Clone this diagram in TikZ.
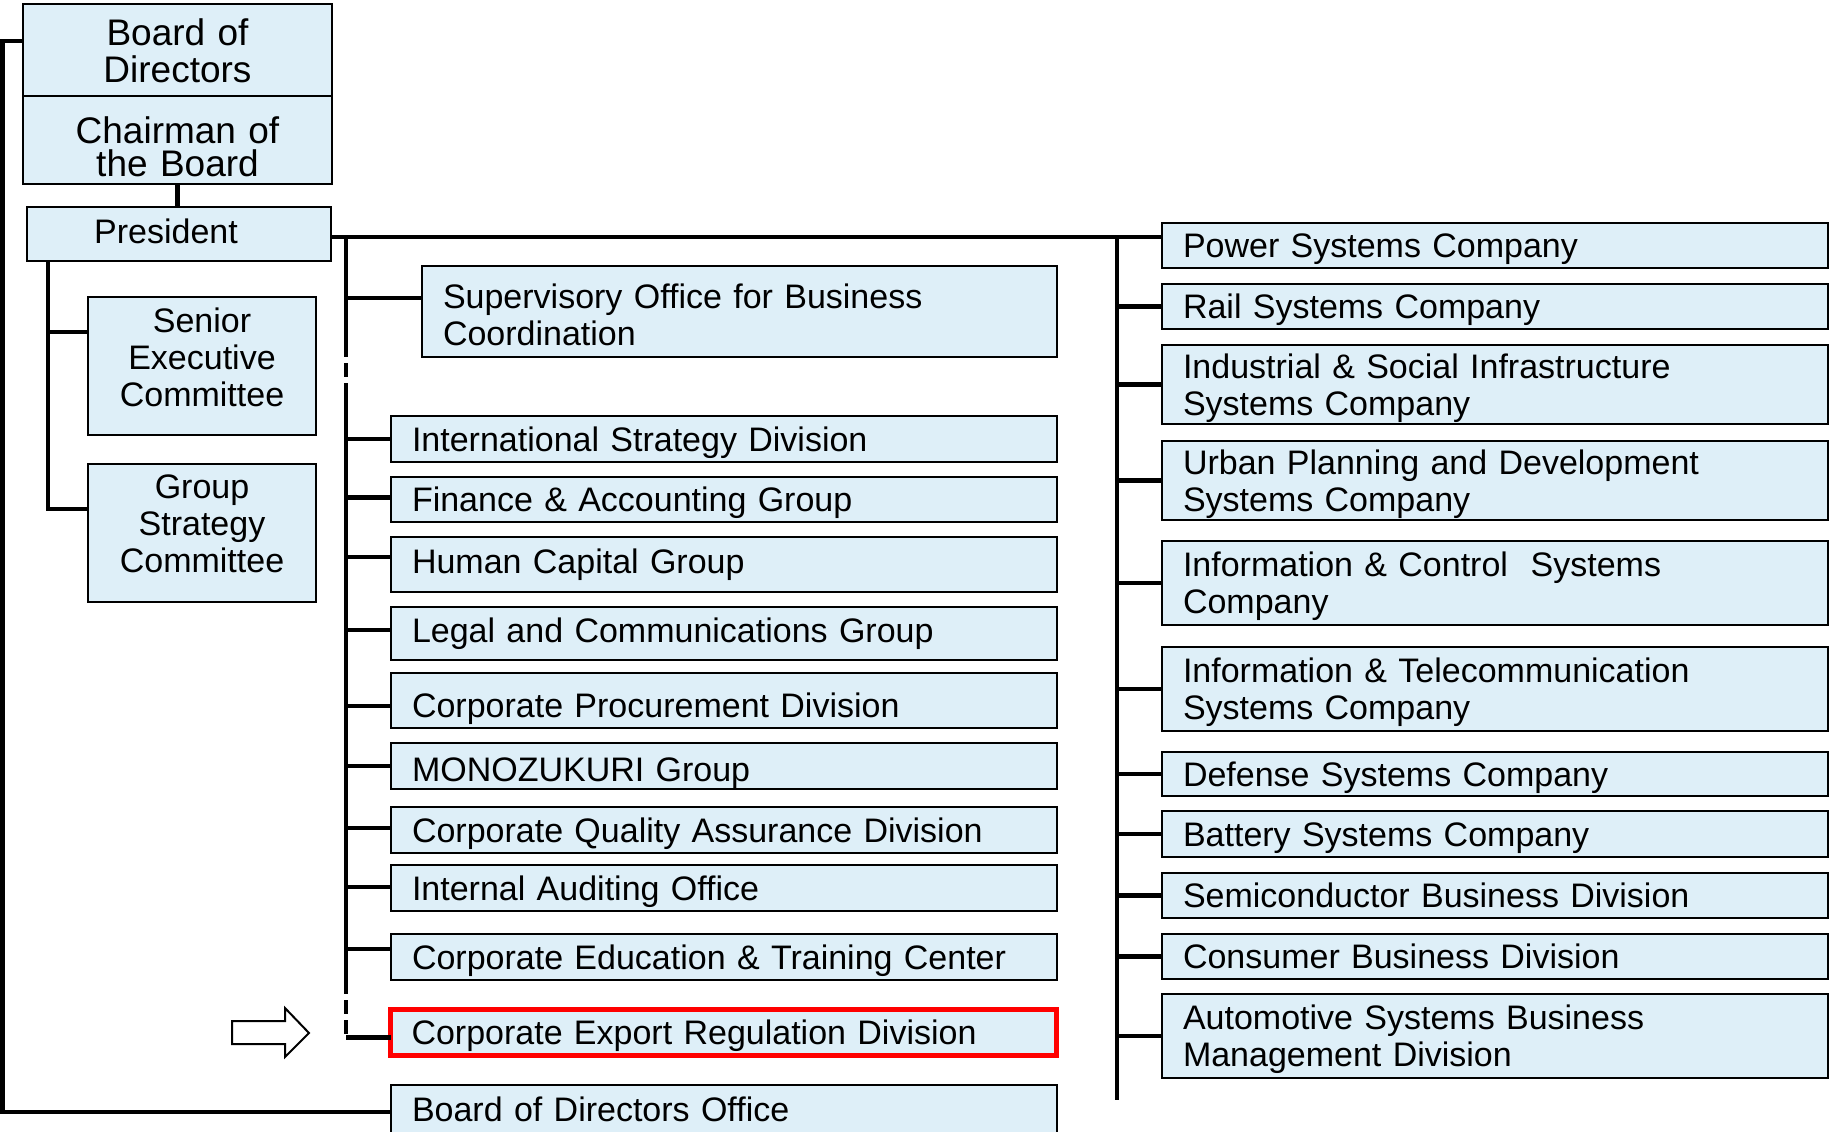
\documentclass[tikz,border=0pt]{standalone}
\usepackage{fontspec}
\setmainfont{Liberation Sans}
\usetikzlibrary{calc}
\definecolor{boxfill}{RGB}{222,239,248}
\definecolor{hired}{RGB}{255,0,0}
\begin{document}
\begin{tikzpicture}[x=0.5pt,y=-0.5pt,
  every node/.style={font=\fontsize{17}{18.5}\selectfont},
  box/.style={draw=black, line width=1.2pt, fill=boxfill, inner sep=0pt, outer sep=0pt},
  cbox/.style={box, align=center},
  bigtext/.style={font=\fontsize{18.5}{18.5}\selectfont},
  lbox/.style={box, align=left, text width=312pt, inner xsep=10.5pt},
  one/.style={text height=12.2pt, text depth=0pt},
  two/.style={text height=12.2pt, text depth=18.5pt},
  conn/.style={line width=2.2pt},
  dashconn/.style={line width=2.2pt, dash pattern=on 7pt off 3pt}]
\useasboundingbox (0,0) rectangle (1835,1131);

% left column
\node[cbox, bigtext, text width=154.5pt, minimum height=46pt, text height=13.2pt, text depth=18.2pt] (board) at (177.5,50) {Board of\\Directors};
\node[cbox, bigtext, text width=154.5pt, minimum height=44pt, text height=13.2pt, text depth=10.2pt] (chair) at (177.5,140) {Chairman of\\[-2pt]the Board};
\node[cbox, text width=152pt, minimum height=27pt, text height=12.2pt, text depth=3.2pt] (pres) at (179,234) {\hspace*{-13pt}President};
\node[cbox, text width=114pt, minimum height=69pt, text height=12.2pt, text depth=46.2pt] (senior) at (202,366) {Senior\\Executive\\Committee};
\node[cbox, text width=114pt, minimum height=69pt, text height=12.2pt, text depth=47.2pt] (grp) at (202,533) {Group\\Strategy\\Committee};

% middle column
\node[lbox, text height=12.2pt, text depth=15.7pt, text width=296.5pt, minimum height=45.5pt] (sup) at (739.5,311.5) {Supervisory Office for Business\\Coordination};
\node[lbox, one, minimum height=23pt] (intl) at (724,439) {International Strategy Division};
\node[lbox, one, minimum height=22.5pt] (fin) at (724,499.5) {Finance \& Accounting Group};
\node[lbox, one, text depth=3.5pt, minimum height=27.5pt] (hum) at (724,564.5) {Human Capital Group};
\node[lbox, one, text depth=3.5pt, minimum height=26.5pt] (legal) at (724,633.5) {Legal and Communications Group};
\node[lbox, one, text height=16.9pt, minimum height=27.5pt] (proc) at (724,700.5) {Corporate Procurement Division};
\node[lbox, one, text height=15.7pt, minimum height=23pt] (mono) at (724,766) {MONOZUKURI Group};
\node[lbox, one, minimum height=23pt] (qual) at (724,830) {Corporate Quality Assurance Division};
\node[lbox, one, minimum height=23pt] (audit) at (724,888) {Internal Auditing Office};
\node[lbox, one, minimum height=23pt] (edu) at (724,957) {Corporate Education \& Training Center};
\node[lbox, one, draw=hired, line width=2.5pt, minimum height=23pt] (exp) at (723.5,1032.5) {Corporate Export Regulation Division};
\node[lbox, one, minimum height=24pt] (bodo) at (724,1109) {Board of Directors Office};

% right column
\node[lbox, one, minimum height=22.5pt] (power) at (1495,245.5) {Power Systems Company};
\node[lbox, one, minimum height=22.5pt] (rail) at (1495,306.5) {Rail Systems Company};
\node[lbox, two, minimum height=39.5pt] (indus) at (1495,384.5) {Industrial \& Social Infrastructure\\Systems Company};
\node[lbox, two, minimum height=39.5pt] (urban) at (1495,480.5) {Urban Planning and Development\\Systems Company};
\node[lbox, two, minimum height=42pt] (infoc) at (1495,583) {Information \& Control\ \ Systems\\Company};
\node[lbox, two, minimum height=42pt] (infot) at (1495,689) {Information \& Telecommunication\\Systems Company};
\node[lbox, one, minimum height=22pt] (def) at (1495,774) {Defense Systems Company};
\node[lbox, one, minimum height=23pt] (batt) at (1495,834) {Battery Systems Company};
\node[lbox, one, minimum height=22.5pt] (semi) at (1495,895.5) {Semiconductor Business Division};
\node[lbox, one, minimum height=22.5pt] (cons) at (1495,956.5) {Consumer Business Division};
\node[lbox, two, minimum height=42pt] (auto) at (1495,1036) {Automotive Systems Business\\Management Division};

% connectors: left
\draw[conn] ([yshift=4.5pt]board.west) -- ++(-20.5,0) |- ([yshift=-1.5pt]bodo.west);
\draw[conn] (chair.south) -- (chair.south |- pres.north);
\draw[conn] ([xshift=10.5pt]pres.south west) |- ([yshift=12pt]grp.west);
\draw[conn] ([yshift=17pt]senior.west) -- ++(-40,0);

% top line from president
\draw[conn] ([yshift=-1.5pt]pres.east) -- ([yshift=-1.5pt]pres.east -| power.west);

% right trunk
\coordinate (rtop) at (1117,237);
\coordinate (rbot) at (1117,1100);
\draw[conn] (rtop) -- (rbot);
\foreach \n in {rail,indus,urban,infoc,infot,def,batt,semi,cons,auto}
  \draw[conn] (\n.west) -- (\n.west -| rtop);

% middle trunk
\coordinate (mtop) at (346,237);
\coordinate (mda) at (346,343);
\coordinate (mdb) at (346,393);
\coordinate (mdc) at (346,980);
\coordinate (mcorner) at (346,1037.5);
\draw[conn] (mtop) -- (mda);
\draw[dashconn] (mda) -- (mdb);
\draw[conn] (mdb) -- (mdc);
\draw[dashconn] (mdc) -- (mcorner);
\draw[conn] ([yshift=-2.5pt]exp.west) -- (mcorner);
\draw[conn] ([yshift=6.75pt]sup.west) -- ([yshift=6.75pt]sup.west -| mtop);
\foreach \n/\s in {intl/0pt,fin/1pt,hum/3.75pt,legal/1.75pt,proc/-2.75pt,mono/0pt,qual/1pt,audit/0.5pt,edu/4pt}
  \draw[conn] ([yshift=\s]\n.west) -- ([yshift=\s]\n.west -| mtop);

% hollow arrow
\draw[line width=1pt, fill=white] (232,1021) -- (285,1021) -- (285,1008) -- (309,1033) -- (285,1057) -- (285,1044) -- (232,1044) -- cycle;
\end{tikzpicture}
\end{document}
